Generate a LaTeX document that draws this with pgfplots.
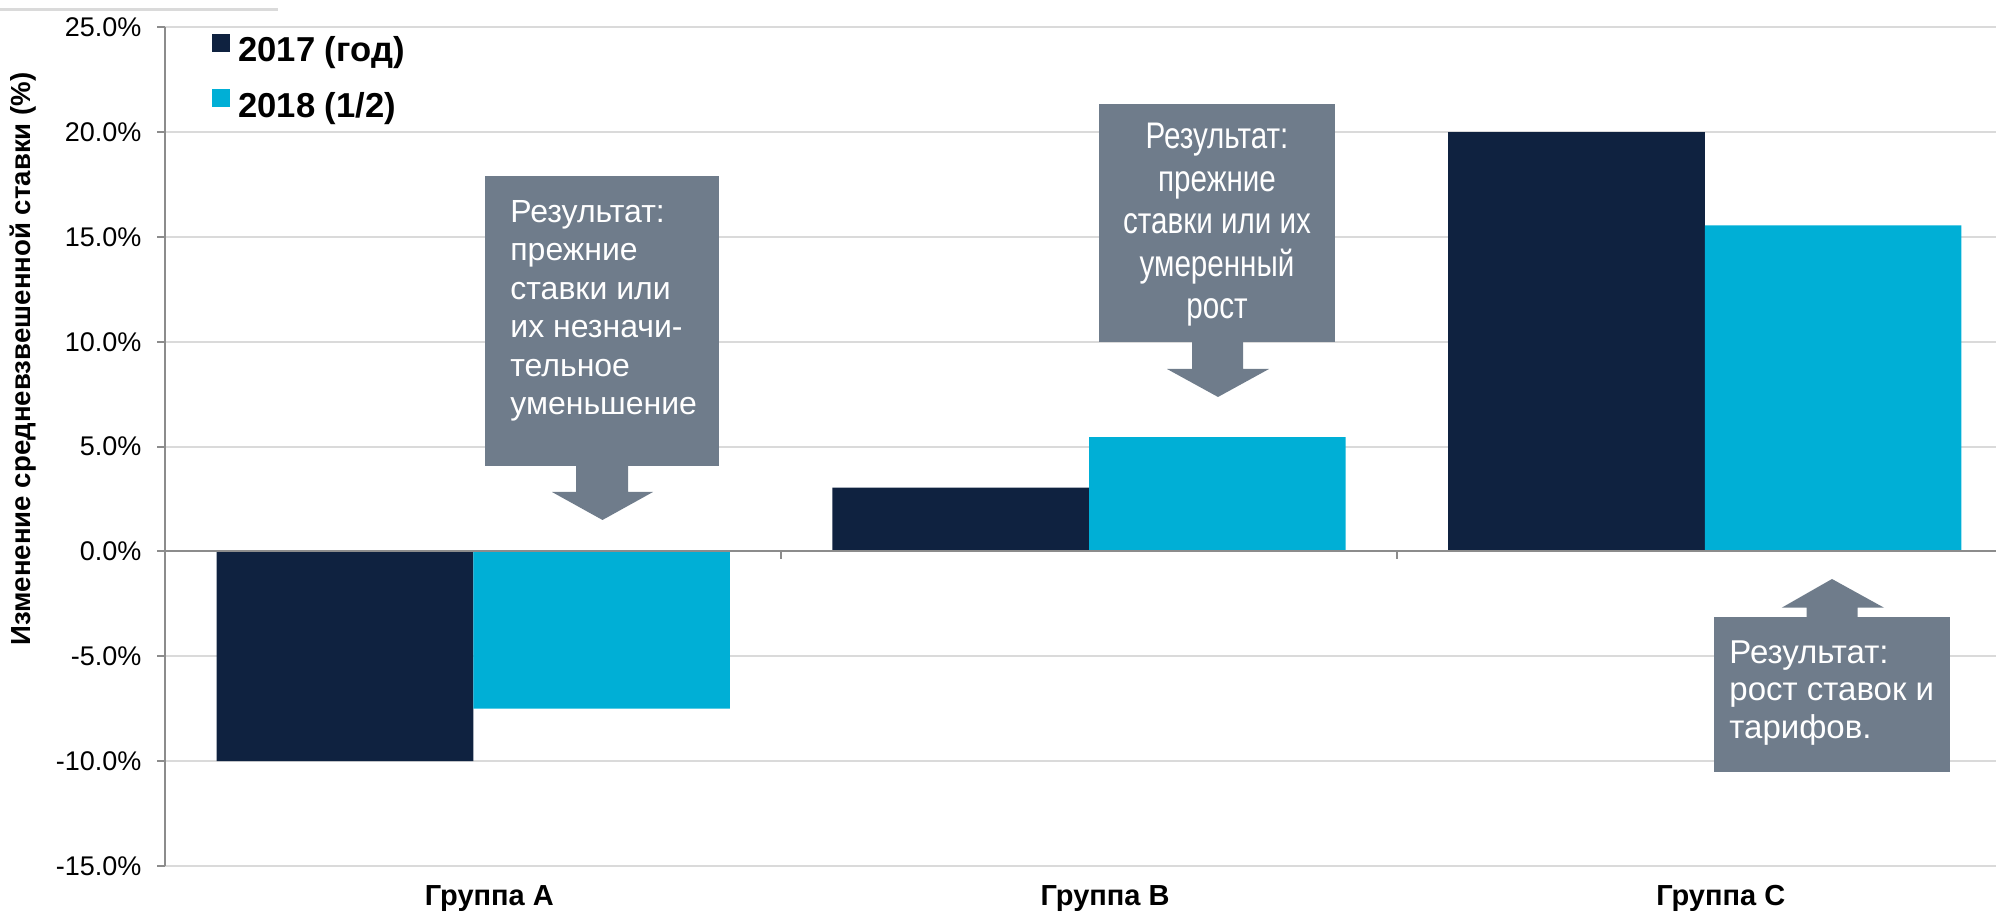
\documentclass[border=0pt]{standalone}
\usepackage{fontspec}
\setmainfont{Liberation Sans}
\newfontfamily\narrowfont[FakeStretch=0.8]{Liberation Sans}
\usepackage{pgfplots}
\pgfplotsset{compat=1.18}

\definecolor{navy}{HTML}{0F2240}
\definecolor{cyanbar}{HTML}{00AFD6}
\definecolor{callout}{HTML}{6F7C8B}
\definecolor{gridgray}{HTML}{DADADA}
\definecolor{axisgray}{HTML}{8C8C8C}

% change of weighted average rate, %
\pgfplotstableread{
x y2017 y2018
0 -10.0 -7.5
1 3.05 5.45
2 20.0 15.55
}\rates

\begin{document}
\begin{tikzpicture}
\begin{axis}[
  name=ax,
  scale only axis, width=915.25pt, height=419.375pt,
  xmin=-0.5, xmax=2.473, ymin=-15, ymax=25,
  ybar, bar width=0.4168,
  ytick={-15,-10,...,25},
  ymajorgrids, grid style={gridgray, line width=1pt},
  separate axis lines,
  axis x line*=bottom, x axis line style={draw=none},
  axis y line*=left, y axis line style={axisgray, line width=1pt, -},
  xtick={0,1,2}, xticklabels={Группа A, Группа B, Группа C},
  x tick style={draw=none},
  y tick style={axisgray, line width=1pt},
  tick align=outside, major tick length=4pt,
  xticklabel style={anchor=base, yshift=-15.5pt, xshift=8pt,
    font=\bfseries\fontsize{14.5}{17}\selectfont},
  yticklabel style={xshift=-4.5pt, font=\fontsize{13.5}{16}\selectfont},
  yticklabel={\pgfmathprintnumber[fixed,fixed zerofill,precision=1]{\tick}\%},
  /pgf/number format/assume math mode=true,
  ylabel={Изменение средневзвешенной ставки (\%)},
  ylabel style={at={(axis description cs:-0.0778,0.6045)}, anchor=center,
    font=\bfseries\fontsize{13.8}{16}\selectfont},
  legend image code/.code={\fill[#1] (0pt,-0.5pt) rectangle (9pt,8.5pt);},
  legend style={draw=none, fill=none, inner sep=0pt,
    at={(axis description cs:0.0254,0.9930)}, anchor=north west,
    font=\bfseries\fontsize{17.3}{20}\selectfont,
    row sep=12.3pt, column sep=4pt, nodes={inner sep=0pt}},
  legend cell align=left,
]
\addplot[fill=navy, draw=none, bar shift=-0.2084] table[x=x, y=y2017]{\rates};
\addplot[fill=cyanbar, draw=none, bar shift=0.2084] table[x=x, y=y2018]{\rates};
\legend{2017 (год), 2018 (1/2)}
% zero line and group separators
\draw[axisgray, line width=1pt] (axis cs:-0.5,0) -- (axis cs:2.473,0);
\draw[axisgray, line width=1pt] (axis cs:0.5,0) -- ++(0pt,-4pt);
\draw[axisgray, line width=1pt] (axis cs:1.5,0) -- ++(0pt,-4pt);
\end{axis}

\begin{scope}[shift={(ax.south west)}]
\begin{scope}[shift={(-82.75pt,433pt)}, x=0.5pt, y=-0.5pt]
  \draw[gridgray, line width=1.5pt] (0,9.5) -- (278,9.5);
  % callout A
  \fill[callout] (485,176) rectangle (719,466);
  \fill[callout] (576,465) -- (576,492) -- (552,492) -- (602.5,520)
     -- (653,492) -- (628,492) -- (628,465) -- cycle;
  \node[anchor=north west, align=left, inner sep=0pt, text=white,
    font=\fontsize{16}{19.2}\selectfont] at (510,200)
    {Результат:\\прежние\\ставки или\\их незначи-\\тельное\\уменьшение};
  % callout B
  \fill[callout] (1099,104) rectangle (1335,341.7);
  \fill[callout] (1192,340.7) -- (1192,369) -- (1167,369) -- (1218,397)
     -- (1269,369) -- (1243,369) -- (1243,340.7) -- cycle;
  \node[anchor=north, align=center, inner sep=0pt, text=white,
    font=\narrowfont\fontsize{18.5}{21.2}\selectfont] at (1217,123)
    {Результат:\\прежние\\ставки или их\\умеренный\\рост};
  % callout C
  \fill[callout] (1714,616.7) rectangle (1950,772);
  \fill[callout] (1806.7,617.7) -- (1806.7,607.7) -- (1781.7,607.7) -- (1832,579)
     -- (1884,607.7) -- (1857.7,607.7) -- (1857.7,617.7) -- cycle;
  \node[anchor=north west, align=left, inner sep=0pt, text=white,
    font=\fontsize{16.5}{18.8}\selectfont] at (1729,640)
    {Результат:\\рост ставок и\\тарифов.};
  \pgfresetboundingbox
  \path[use as bounding box] (0,0) rectangle (1996,915);
\end{scope}
\end{scope}
\end{tikzpicture}
\end{document}
